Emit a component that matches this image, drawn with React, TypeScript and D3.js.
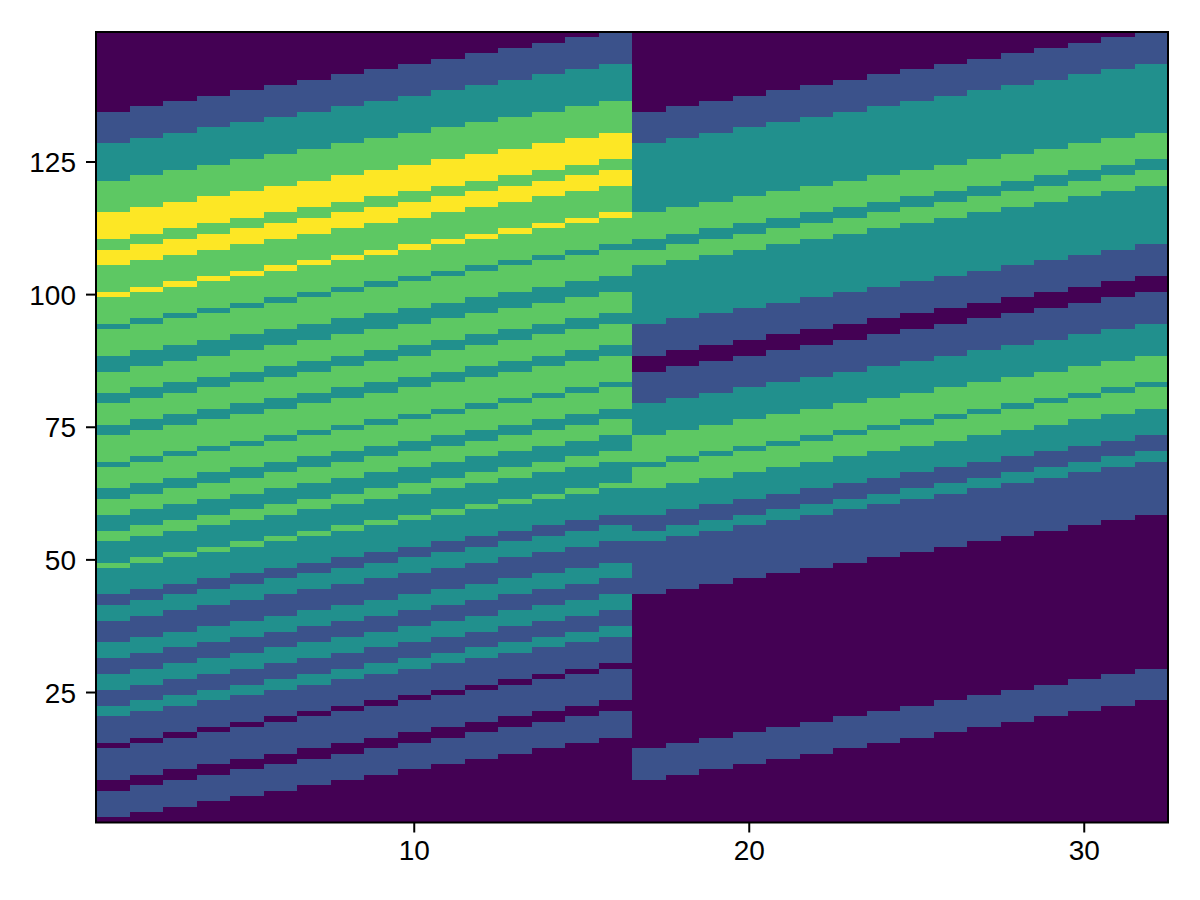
import React, { useMemo } from "react";
import * as d3 from "d3";

const xTicks = [10, 20, 30];
const yTicks = [25, 50, 75, 100, 125];
const levelColors = ["#440154", "#3b528b", "#21908d", "#5dc863", "#fde725"];

// Colour level of each run, top to bottom, in columns 1-16 and in columns 17-32.
const levelsLeft = [0,1,2,3,4,3,4,3,4,3,2,3,2,3,2,3,2,3,2,3,2,3,2,3,2,3,2,1,2,1,2,1,2,1,2,1,0,1,0,1,0];
const levelsRight = [0,1,2,3,2,3,2,1,0,1,2,3,2,3,2,1,2,1,0,1,0];

// Upper run boundaries of every column (row edges, top to bottom).
const edgesLeft = [
  [134,128,121,115,110,108,105,100,99,94,93,88,85,81,79,75,73,68,67,63,61,58,55,53,49,48,43,41,38,34,31,28,25,22,20,15,14,8,6,1],
  [135,129,122,116,111,109,106,101,100,95,94,89,86,82,80,76,74,69,68,64,62,59,56,54,50,49,44,42,39,35,32,29,26,23,21,16,15,9,7,2],
  [136,130,123,117,112,110,107,102,101,96,95,90,87,83,81,77,75,70,69,65,63,60,57,55,51,50,45,43,40,36,33,30,27,24,22,17,16,10,8,3],
  [137,131,124,118,113,111,108,103,102,97,96,91,88,84,82,78,76,71,70,66,64,61,58,56,52,51,46,44,41,37,34,31,28,25,23,18,17,11,9,4],
  [138,132,125,119,114,112,109,104,103,98,97,92,89,85,83,79,77,72,71,67,65,62,59,57,53,52,47,45,42,38,35,32,29,26,24,19,18,12,10,5],
  [139,133,126,120,115,113,110,105,104,99,98,93,90,86,84,80,78,73,72,68,66,63,60,58,54,53,48,46,43,39,36,33,30,27,25,20,19,13,11,6],
  [140,134,127,121,116,114,111,106,105,100,99,94,91,87,85,81,79,74,73,69,67,64,61,59,55,54,49,47,44,40,37,34,31,28,26,21,20,14,12,7],
  [141,135,128,122,117,115,112,107,106,101,100,95,92,88,86,82,80,75,74,70,68,65,62,60,56,55,50,48,45,41,38,35,32,29,27,22,21,15,13,8],
  [142,136,129,123,118,116,113,108,107,102,101,96,93,89,87,83,81,76,75,71,69,66,63,61,57,56,51,49,46,42,39,36,33,30,28,23,22,16,14,9],
  [143,137,130,124,119,117,114,109,108,103,102,97,94,90,88,84,82,77,76,72,70,67,64,62,58,57,52,50,47,43,40,37,34,31,29,24,23,17,15,10],
  [144,138,131,125,120,118,115,110,109,104,103,98,95,91,89,85,83,78,77,73,71,68,65,63,59,58,53,51,48,44,41,38,35,32,30,25,24,18,16,11],
  [145,139,132,126,121,119,116,111,110,105,104,99,96,92,90,86,84,79,78,74,72,69,66,64,60,59,54,52,49,45,42,39,36,33,31,26,25,19,17,12],
  [146,140,133,127,122,120,117,112,111,106,105,100,97,93,91,87,85,80,79,75,73,70,67,65,61,60,55,53,50,46,43,40,37,34,32,27,26,20,18,13],
  [147,141,134,128,123,121,118,113,112,107,106,101,98,94,92,88,86,81,80,76,74,71,68,66,62,61,56,54,51,47,44,41,38,35,33,28,27,21,19,14],
  [148,142,135,129,124,122,119,114,113,108,107,102,99,95,93,89,87,82,81,77,75,72,69,67,63,62,57,55,52,48,45,42,39,36,34,29,28,22,20,15],
  [149,143,136,130,125,123,120,115,114,109,108,103,100,96,94,90,88,83,82,78,76,73,70,68,64,63,58,56,53,49,46,43,40,37,35,30,29,23,21,16],
];
const edgesRight = [
  [134,128,115,110,108,105,94,88,85,79,73,68,67,63,58,55,53,43,14,8],
  [135,129,116,111,109,106,95,89,86,80,74,69,68,64,59,56,54,44,15,9],
  [136,130,117,112,110,107,96,90,87,81,75,70,69,65,60,57,55,45,16,10],
  [137,131,118,113,111,108,97,91,88,82,76,71,70,66,61,58,56,46,17,11],
  [138,132,119,114,112,109,98,92,89,83,77,72,71,67,62,59,57,47,18,12],
  [139,133,120,115,113,110,99,93,90,84,78,73,72,68,63,60,58,48,19,13],
  [140,134,121,116,114,111,100,94,91,85,79,74,73,69,64,61,59,49,20,14],
  [141,135,122,117,115,112,101,95,92,86,80,75,74,70,65,62,60,50,21,15],
  [142,136,123,118,116,113,102,96,93,87,81,76,75,71,66,63,61,51,22,16],
  [143,137,124,119,117,114,103,97,94,88,82,77,76,72,67,64,62,52,23,17],
  [144,138,125,120,118,115,104,98,95,89,83,78,77,73,68,65,63,53,24,18],
  [145,139,126,121,119,116,105,99,96,90,84,79,78,74,69,66,64,54,25,19],
  [146,140,127,122,120,117,106,100,97,91,85,80,79,75,70,67,65,55,26,20],
  [147,141,128,123,121,118,107,101,98,92,86,81,80,76,71,68,66,56,27,21],
  [148,142,129,124,122,119,108,102,99,93,87,82,81,77,72,69,67,57,28,22],
  [149,143,130,125,123,120,109,103,100,94,88,83,82,78,73,70,68,58,29,23],
];

const W = 1200;
const H = 900;
const left = 96;
const right = 1168;
const top = 32;
const bottom = 822.5;
const rowCount = 149;
const colCount = 32;
const font = "'Liberation Sans', Arial, sans-serif";

export default function App() {
  const x = useMemo(() => d3.scaleLinear().domain([0.5, colCount + 0.5]).range([left, right]), []);
  const y = useMemo(() => d3.scaleLinear().domain([0.5, rowCount + 0.5]).range([bottom, top]), []);

  const cells = useMemo(() => {
    const out: { key: string; x0: number; x1: number; y0: number; y1: number; fill: string }[] = [];
    const addColumn = (edges: number[], levels: number[], col: number) => {
      const bounds = [rowCount, ...edges, 0];
      levels.forEach((lv, i) => {
        if (bounds[i] === bounds[i + 1]) return;
        out.push({
          key: `${col}-${i}`,
          x0: x(col - 0.5),
          x1: x(col + 0.5),
          y0: y(bounds[i] + 0.5),
          y1: y(bounds[i + 1] + 0.5),
          fill: levelColors[lv],
        });
      });
    };
    edgesLeft.forEach((e, i) => addColumn(e, levelsLeft, i + 1));
    edgesRight.forEach((e, i) => addColumn(e, levelsRight, i + 17));
    return out;
  }, [x, y]);

  return (
    <svg
      width={W}
      height={H}
      viewBox={`0 0 ${W} ${H}`}
      style={{ position: "absolute", left: 0, top: 0, background: "#fff" }}
    >
      <g shapeRendering="crispEdges">
        {cells.map((c) => (
          <rect key={c.key} x={c.x0} y={c.y0} width={c.x1 - c.x0} height={c.y1 - c.y0} fill={c.fill} />
        ))}
      </g>
      <rect x={left} y={top} width={right - left} height={bottom - top} fill="none" stroke="#000" strokeWidth={2} />
      {xTicks.map((t) => (
        <g key={t}>
          <line x1={x(t)} x2={x(t)} y1={bottom} y2={bottom + 10} stroke="#000" strokeWidth={2} />
          <text x={x(t)} y={860} textAnchor="middle" fontFamily={font} fontSize={28} fill="#000">
            {t}
          </text>
        </g>
      ))}
      {yTicks.map((t) => (
        <g key={t}>
          <line x1={left - 10} x2={left} y1={y(t)} y2={y(t)} stroke="#000" strokeWidth={2} />
          <text x={76} y={y(t) + 10} textAnchor="end" fontFamily={font} fontSize={28} fill="#000">
            {t}
          </text>
        </g>
      ))}
    </svg>
  );
}
